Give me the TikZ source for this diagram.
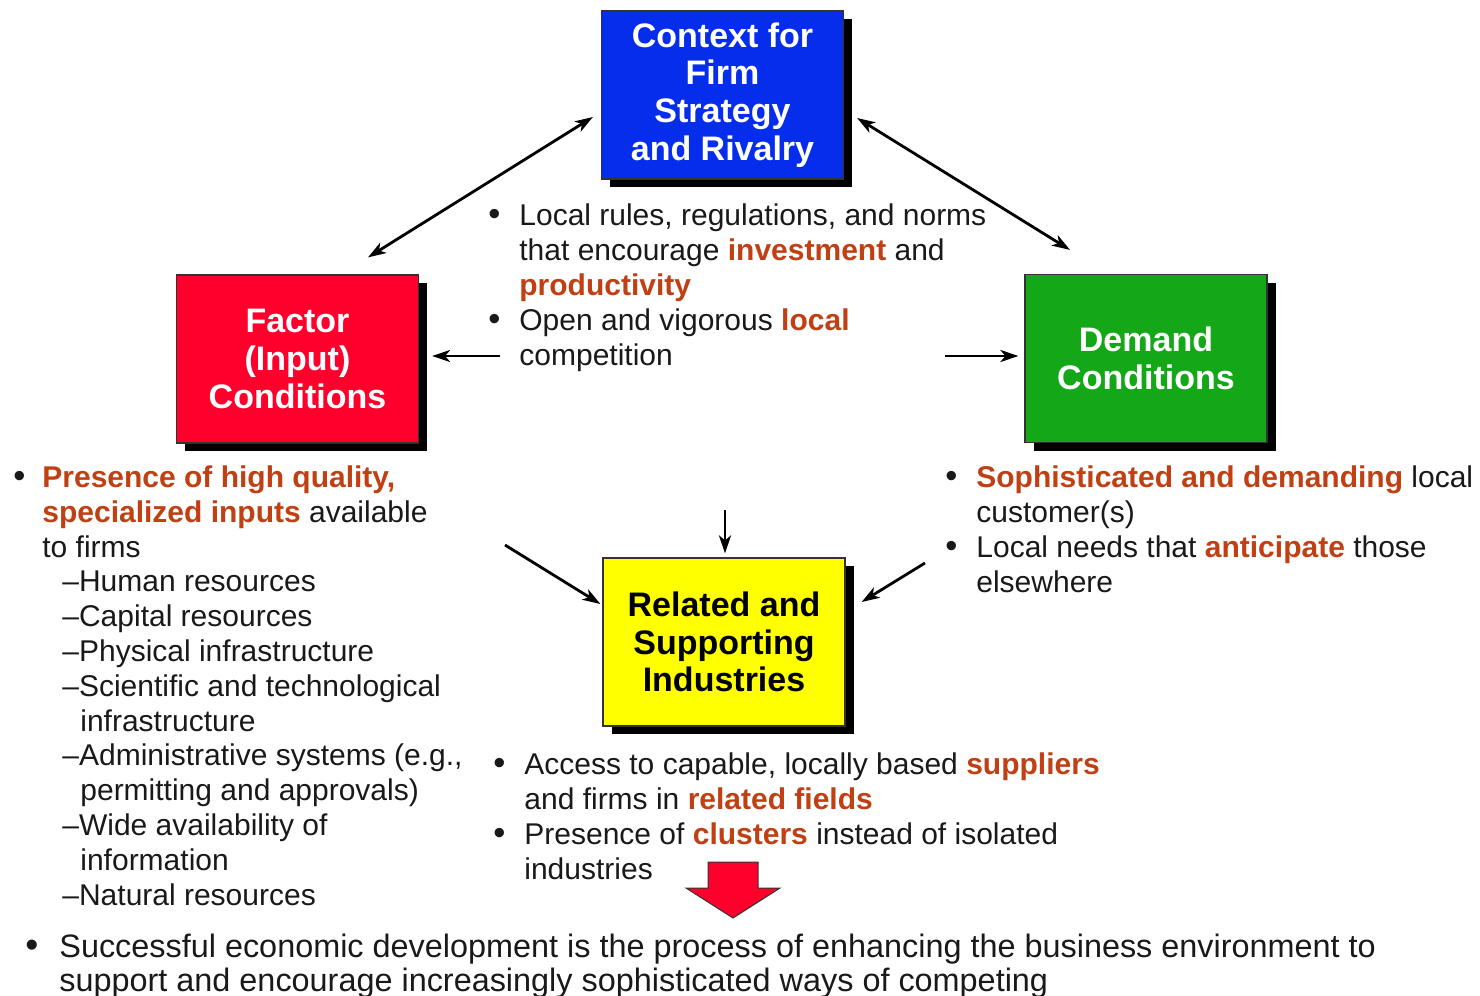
\documentclass[tikz,border=0pt]{standalone}
\usepackage{fontspec}
\setmainfont{Liberation Sans}
\usepackage{tikz}
\usetikzlibrary{positioning, arrows.meta, shadows, calc}

\definecolor{ctxblue}{RGB}{5,45,235}
\definecolor{facred}{RGB}{255,0,45}
\definecolor{demgreen}{RGB}{20,168,25}
\definecolor{relyellow}{RGB}{255,255,0}
\definecolor{hotred}{RGB}{192,64,20}
\definecolor{bodygray}{RGB}{25,25,25}

\newcommand{\hot}[1]{\textbf{\color{hotred}#1}}
\newcommand{\bul}[1]{\makebox[#1][l]{\scalebox{1.15}{\textbullet}}}
\newcommand{\indt}[1]{\hspace*{#1}}

\begin{document}
\begin{tikzpicture}[
        x=0.5pt, y=-0.5pt, % pixel grid, y going down
        box/.style={draw=black!80, line width=0.6pt, minimum width=121pt, minimum height=84pt,
            align=center, font=\fontsize{17pt}{18.8pt}\selectfont\bfseries,
            drop shadow={shadow xshift=4.3pt, shadow yshift=-4pt, fill=black, opacity=1}}, % Box style
        txt/.style={anchor=base west, inner sep=0pt, align=left, text=bodygray,
            font=\fontsize{15pt}{17.4pt}\selectfont}, % Text style (base = last line)
        arrow/.style={-{Stealth[length=9pt, width=6pt, inset=2.5pt]}, line width=1.4pt}, % Arrow style
        dblarrow/.style={{Stealth[length=9pt, width=6pt, inset=2.5pt]}-{Stealth[length=9pt, width=6pt, inset=2.5pt]}, line width=1.4pt}
    ]
    \useasboundingbox (0,0) rectangle (1480,996);

    % Boxes
    \node (ctx) [box, fill=ctxblue, text=white] at (722.5,95) {Context for\\Firm\\Strategy\\and Rivalry};
    \node (fac) [box, fill=facred, text=white] at (297.5,359) {Factor\\(Input)\\Conditions};
    \node (dem) [box, fill=demgreen, text=white] at (1146,358.5) {Demand\\Conditions};
    \node (rel) [box, fill=relyellow, text=black] at (724,642) {Related and\\Supporting\\Industries};

    % Text blocks
    \node (ctxtxt) [txt] at (488,365) {\bul{15.5pt}Local rules, regulations, and norms\\
        \indt{15.5pt}that encourage \hot{investment} and\\
        \indt{15.5pt}\hot{productivity}\\
        \bul{15.5pt}Open and vigorous \hot{local}\\
        \indt{15.5pt}competition};
    \node (factxt) [txt] at (13,905) {\bul{14.5pt}\hot{Presence of high quality,}\\
        \indt{14.5pt}\hot{specialized inputs} available\\
        \indt{14.5pt}to firms\\
        \indt{24.5pt}–Human resources\\
        \indt{24.5pt}–Capital resources\\
        \indt{24.5pt}–Physical infrastructure\\
        \indt{24.5pt}–Scientific and technological\\
        \indt{33.5pt}infrastructure\\
        \indt{24.5pt}–Administrative systems (e.g.,\\
        \indt{33.5pt}permitting and approvals)\\
        \indt{24.5pt}–Wide availability of\\
        \indt{33.5pt}information\\
        \indt{24.5pt}–Natural resources};
    \node (demtxt) [txt] at (945,592) {\bul{15.5pt}\hot{Sophisticated and demanding} local\\
        \indt{15.5pt}customer(s)\\
        \bul{15.5pt}Local needs that \hot{anticipate} those\\
        \indt{15.5pt}elsewhere};
    \node (reltxt) [txt] at (493,879) {\bul{15.5pt}Access to capable, locally based \hot{suppliers}\\
        \indt{15.5pt}and firms in \hot{related fields}\\
        \bul{15.5pt}Presence of \hot{clusters} instead of isolated\\
        \indt{15.5pt}industries};
    \node (sumtxt) [txt, font=\fontsize{16.2pt}{17pt}\selectfont] at (25,991) {\bul{17pt}Successful economic development is the process of enhancing the business environment to\\
        \indt{17pt}support and encourage increasingly sophisticated ways of competing};

    % Free arrow ends
    \coordinate (fcom) at (500,356);
    \coordinate (dcom) at (945,356);
    \coordinate (rtop) at (725,510);
    \coordinate (rleft) at (505,545);
    \coordinate (rright) at (925,563);

    % Diamond connections
    \draw[dblarrow] ($(ctx.west)+(-8,22)$) -- ($(fac.north)+(70.5,-17)$);
    \draw[dblarrow] ($(ctx.east)+(13,23)$) -- ($(dem.north)+(-76,-24)$);

    % Connections from the text
    \draw[arrow] (fcom) -- ($(fac.east)+(13,-3)$);
    \draw[arrow] (dcom) -- ($(dem.west)+(-6,-2.5)$);
    \draw[arrow] (rtop) -- ($(rel.north)+(1,-4)$);
    \draw[arrow] (rleft) -- ($(rel.west)+(-2,-38)$);
    \draw[arrow] (rright) -- ($(rel.east)+(16,-40)$);

    % Block arrow
    \draw[fill=facred, draw=black!80, line width=0.5pt] (708,862) -- (758,862) -- (758,888) -- (780,888)
        -- (733,918) -- (686,888) -- (708,888) -- cycle;

\end{tikzpicture}
\end{document}
